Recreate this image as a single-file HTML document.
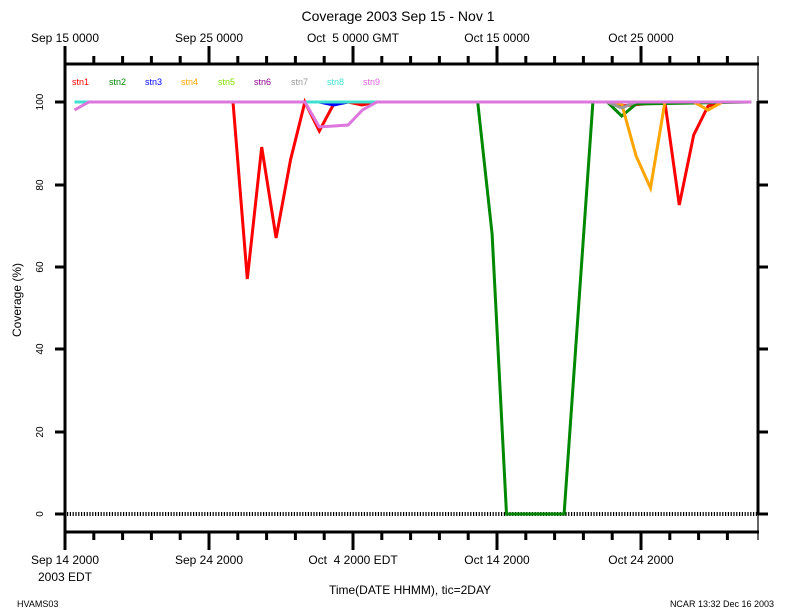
<!DOCTYPE html>
<html><head><meta charset="utf-8"><style>
body{margin:0;background:#fff}
svg{display:block;font-family:"Liberation Sans",sans-serif}
text{white-space:pre}
</style></head><body>
<svg width="792" height="612" viewBox="0 0 792 612" xmlns="http://www.w3.org/2000/svg">
<rect width="792" height="612" fill="#fff"/>
<text x="398" y="21" font-size="14" text-anchor="middle">Coverage 2003 Sep 15 - Nov 1</text>
<g font-size="12" text-anchor="middle">
<text x="65" y="42">Sep 15 0000</text>
<text x="209" y="42">Sep 25 0000</text>
<text x="353" y="42">Oct &#160;5 0000 GMT</text>
<text x="497" y="42">Oct 15 0000</text>
<text x="641" y="42">Oct 25 0000</text>
<text x="65" y="564">Sep 14 2000</text>
<text x="65" y="581">2003 EDT</text>
<text x="209" y="564">Sep 24 2000</text>
<text x="353" y="564">Oct &#160;4 2000 EDT</text>
<text x="497" y="564">Oct 14 2000</text>
<text x="641" y="564">Oct 24 2000</text>
<text x="410" y="594">Time(DATE HHMM), tic=2DAY</text>
</g>
<text x="17" y="607" font-size="9">HVAMS03</text>
<text x="774" y="607" font-size="9" text-anchor="end">NCAR 13:32 Dec 16 2003</text>
<text transform="translate(21,300) rotate(-90)" font-size="12" text-anchor="middle">Coverage (%)</text>
<g font-size="10" text-anchor="middle">
<text transform="translate(43,102) rotate(-90)">100</text>
<text transform="translate(43,185) rotate(-90)">80</text>
<text transform="translate(43,267) rotate(-90)">60</text>
<text transform="translate(43,349) rotate(-90)">40</text>
<text transform="translate(43,432) rotate(-90)">20</text>
<text transform="translate(43,514) rotate(-90)">0</text>
</g>
<g stroke="#000" stroke-width="3" fill="none">
<line x1="64" y1="64" x2="759" y2="64"/>
<line x1="64" y1="532" x2="759" y2="532"/>
<line x1="65" y1="46" x2="65" y2="550"/>
<line x1="758" y1="101" x2="758" y2="515"/>
<line x1="55" y1="102" x2="65" y2="102"/><line x1="55" y1="185" x2="65" y2="185"/>
<line x1="55" y1="267" x2="65" y2="267"/><line x1="55" y1="349" x2="65" y2="349"/>
<line x1="55" y1="432" x2="65" y2="432"/><line x1="55" y1="514" x2="65" y2="514"/>
<line x1="758" y1="102" x2="768" y2="102"/><line x1="758" y1="185" x2="768" y2="185"/>
<line x1="758" y1="267" x2="768" y2="267"/><line x1="758" y1="349" x2="768" y2="349"/>
<line x1="758" y1="432" x2="768" y2="432"/><line x1="758" y1="514" x2="768" y2="514"/>
<path d="M93.8 64v-8M122.6 64v-8M151.4 64v-8M180.2 64v-8M209 64v-18M237.8 64v-8M266.6 64v-8M295.4 64v-8M324.2 64v-8M353 64v-18M381.8 64v-8M410.6 64v-8M439.4 64v-8M468.2 64v-8M497 64v-18M525.8 64v-8M554.6 64v-8M583.4 64v-8M612.2 64v-8M641 64v-18M669.8 64v-8M698.6 64v-8M727.4 64v-8"/>
<path d="M93.8 532v8M122.6 532v8M151.4 532v8M180.2 532v8M209 532v18M237.8 532v8M266.6 532v8M295.4 532v8M324.2 532v8M353 532v18M381.8 532v8M410.6 532v8M439.4 532v8M468.2 532v8M497 532v18M525.8 532v8M554.6 532v8M583.4 532v8M612.2 532v8M641 532v18M669.8 532v8M698.6 532v8M727.4 532v8"/>
</g>
<g stroke="#000" stroke-width="1.2">
<line x1="758" y1="56" x2="758" y2="101"/>
<line x1="758" y1="515" x2="758" y2="540"/>
</g>
<line x1="67" y1="514" x2="758" y2="514" stroke="#000" stroke-width="4" stroke-dasharray="1.2,1.6"/>
<g font-size="9">
<text x="72" y="85" fill="#f00">stn1</text>
<text x="109" y="85" fill="#008800">stn2</text>
<text x="145" y="85" fill="#00f">stn3</text>
<text x="181" y="85" fill="#ffa500">stn4</text>
<text x="218" y="85" fill="#7fdd00">stn5</text>
<text x="254" y="85" fill="#8b008b">stn6</text>
<text x="291" y="85" fill="#999">stn7</text>
<text x="327" y="85" fill="#40e0d0">stn8</text>
<text x="363" y="85" fill="#dd66dd">stn9</text>
</g>
<g fill="none" stroke-width="3" stroke-linejoin="miter">
<polyline stroke="#f00" points="74.5,102 233,102 247.3,279 261.7,147 276.1,238 290.5,160 304.9,102 319.3,131 333.7,104 348.1,102 362,105 376.9,102 609,102 621.7,106 664.9,102 679.3,205 693.7,135 708.1,106 722.5,102 751.3,102"/>
<polyline stroke="#008800" points="74.5,102 477.7,102 492.1,234 506.5,514 564.1,514 592.9,102 607.3,102 621.7,116 636.1,104 751.3,102"/>
<polyline stroke="#ffa500" points="607.3,102 621.7,104 636.1,156 650.5,188 664.9,102 693.7,102 708.1,110 722.5,102 751.3,102"/>
<polyline stroke="#0000ff" points="319.3,102 333.7,105 348.1,102"/>
<polyline stroke="#999" points="607.3,102 621.7,108 636.1,102"/>
<polyline stroke="#40e0d0" points="74.5,102 751.3,102"/>
<polyline stroke="#dd77dd" points="74.5,110 88.9,102 304.9,102 319.3,127 333.7,126 348.1,125 362.5,110 376.9,102 751.3,102"/>
</g>
</svg>
</body></html>
